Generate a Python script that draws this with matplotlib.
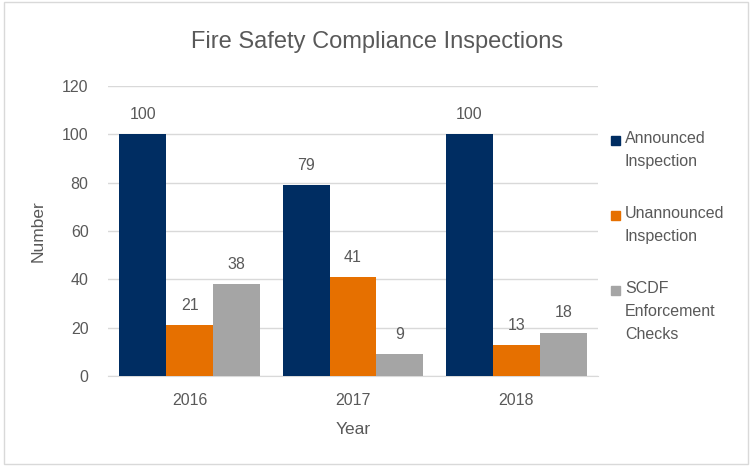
import numpy as np
import matplotlib
matplotlib.use("Agg")
import matplotlib.pyplot as plt
from matplotlib.patches import Rectangle

years = ["2016", "2017", "2018"]
series = ["Announced\nInspection", "Unannounced\nInspection", "SCDF\nEnforcement\nChecks"]
announced = [100, 79, 100]
unannounced = [21, 41, 13]
scdf = [38, 9, 18]
colors = ["#002D62", "#E67000", "#A5A5A5"]

plt.rcParams['font.family'] = ['Liberation Sans', 'DejaVu Sans']
txt = "#595959"

fig = plt.figure(figsize=(7.54, 4.68), dpi=100)
ax = fig.add_axes([108/754, 1-376/468, 490/754, 290/468])

x = np.arange(len(years))
w = 0.287
for i, (vals, name) in enumerate(zip([announced, unannounced, scdf], series)):
    bars = ax.bar(x + (i-1)*w, vals, w, color=colors[i], label=name, zorder=3)
    for b, v in zip(bars, vals):
        ax.text(b.get_x()+b.get_width()/2, v+5, str(v), ha="center", va="bottom",
                fontsize=11.5, color=txt)

ax.set_xlim(-0.5, 2.5)
ax.set_ylim(0, 120)
ax.set_yticks(range(0, 121, 20))
ax.set_xticks(x)
ax.set_xticklabels(years)
ax.yaxis.grid(True, color="#D9D9D9", linewidth=1, zorder=0)
for s in ["top", "right", "left"]:
    ax.spines[s].set_visible(False)
ax.spines["bottom"].set_color("#D9D9D9")
ax.tick_params(length=0, labelsize=11.5, colors=txt, pad=12)
ax.tick_params(axis="y", pad=14)
ax.set_xlabel("Year", fontsize=12.5, color=txt, labelpad=10)
ax.set_ylabel("Number", fontsize=12.5, color=txt, labelpad=12)
fig.text(0.5, 1-42/468, "Fire Safety Compliance Inspections", ha="center", va="center",
         fontsize=17, color=txt)

# legend drawn by hand: square next to the first line, text left aligned
for i, name in enumerate(series):
    yc = 140 + i*75
    fig.patches.append(Rectangle((611/754, 1-(yc+5)/468), 9/754, 9/468,
                                 transform=fig.transFigure, color=colors[i]))
    fig.text(625/754, 1-(yc-9)/468, name, ha="left", va="top", fontsize=11.5,
             color=txt, linespacing=1.65)

fig.patches.append(Rectangle((4/754, 4/468), 744/754, 462/468, transform=fig.transFigure,
                             fill=False, edgecolor="#D9D9D9", linewidth=1))

fig.savefig("out.png", dpi=100, facecolor="white")
